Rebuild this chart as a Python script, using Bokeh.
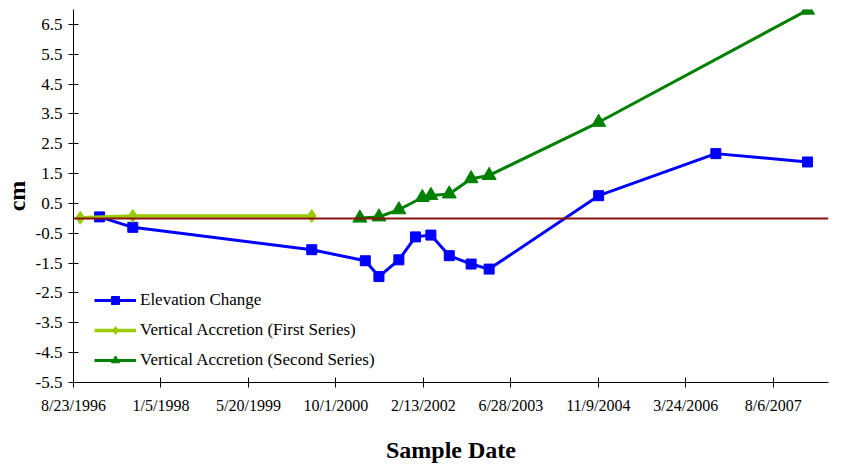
import pandas as pd
from bokeh.plotting import figure
from bokeh.models import FixedTicker, Range1d, Span, Legend, LegendItem
from bokeh.embed import file_html
from bokeh.resources import INLINE

# ---- data ----
elev_dates = ["1997-01-19", "1997-07-28", "2000-05-16", "2001-03-18", "2001-06-04",
              "2001-09-26", "2001-12-30", "2002-03-28", "2002-07-11", "2002-11-13",
              "2003-02-24", "2004-11-11", "2006-09-12", "2008-02-18"]
elev_values = [0.05, -0.30, -1.05, -1.42, -1.95, -1.39, -0.62, -0.56, -1.25, -1.53,
               -1.70, 0.76, 2.17, 1.89]

first_dates = ["1996-10-01", "1997-07-28", "2000-05-16"]
first_values = [0.02, 0.08, 0.08]

second_dates = ["2001-02-15", "2001-06-04", "2001-09-26", "2002-02-07", "2002-03-28",
                "2002-07-11", "2002-11-13", "2003-02-24", "2004-11-11", "2008-02-18"]
second_values = [0.01, 0.05, 0.29, 0.70, 0.77, 0.82, 1.33, 1.44, 3.22, 6.98]

x_tick_dates = ["1996-08-23", "1998-01-05", "1999-05-20", "2000-10-01", "2002-02-13",
                "2003-06-28", "2004-11-09", "2006-03-24", "2007-08-06"]
x_tick_labels = ["8/23/1996", "1/5/1998", "5/20/1999", "10/1/2000", "2/13/2002",
                 "6/28/2003", "11/9/2004", "3/24/2006", "8/6/2007"]
y_ticks = [-5.5, -4.5, -3.5, -2.5, -1.5, -0.5, 0.5, 1.5, 2.5, 3.5, 4.5, 5.5, 6.5]
y_tick_labels = ["-5.5", "-4.5", "-3.5", "-2.5", "-1.5", "-0.5", "0.5", "1.5", "2.5",
                 "3.5", "4.5", "5.5", "6.5"]


def ms(d):
    return pd.Timestamp(d).timestamp() * 1000.0


DAY = 86400000.0
x_start = ms(x_tick_dates[0])
x_end = x_start + 4316 * DAY

p = figure(width=850, height=465, output_backend="svg", toolbar_location=None,
           x_range=Range1d(x_start, x_end), y_range=Range1d(-5.5, 7.0),
           min_border_left=72, min_border_right=22, min_border_top=9,
           min_border_bottom=83)
p.outline_line_color = None
p.xgrid.grid_line_color = None
p.ygrid.grid_line_color = None
p.background_fill_color = "white"
p.border_fill_color = "white"

FONT = "Liberation Serif"

# zero line
p.add_layout(Span(location=0, dimension="width", line_color="#8B1010", line_width=2))

ex = [ms(d) for d in elev_dates]
fx = [ms(d) for d in first_dates]
sx = [ms(d) for d in second_dates]

r_e_l = p.line(ex, elev_values, line_color="#0000FF", line_width=3)
r_e_m = p.scatter(ex, elev_values, marker="square", size=10, fill_color="#0000FF",
                  line_color="#0000FF")
r_f_l = p.line(fx, first_values, line_color="#99CC00", line_width=3.5)
r_f_m = p.scatter(fx, first_values, marker="diamond", size=13, fill_color="#99CC00",
                  line_color="#99CC00")
r_s_l = p.line(sx, second_values, line_color="#008000", line_width=3)
r_s_m = p.scatter(sx, second_values, marker="triangle", size=14, fill_color="#008000",
                  line_color="#008000")

legend = Legend(items=[
    LegendItem(label="Elevation Change", renderers=[r_e_l, r_e_m]),
    LegendItem(label="Vertical Accretion (First Series)", renderers=[r_f_l, r_f_m]),
    LegendItem(label="Vertical Accretion (Second Series)", renderers=[r_s_l, r_s_m]),
], location=(21, 12))
legend.border_line_color = None
legend.background_fill_alpha = 0
legend.padding = 0
legend.margin = 0
legend.spacing = 10
legend.glyph_width = 42
legend.glyph_height = 20
legend.label_height = 20
legend.label_standoff = 4
legend.label_text_font = FONT
legend.label_text_font_size = "17px"
legend.label_text_color = "black"
p.add_layout(legend)

# axes
p.xaxis.ticker = FixedTicker(ticks=[ms(d) for d in x_tick_dates])
p.xaxis.major_label_overrides = {ms(d): lab for d, lab in zip(x_tick_dates, x_tick_labels)}
p.yaxis.ticker = FixedTicker(ticks=y_ticks)
p.yaxis.major_label_overrides = {t: lab for t, lab in zip(y_ticks, y_tick_labels)}

for ax in (p.xaxis, p.yaxis):
    ax.axis_line_color = "black"
    ax.axis_line_width = 1
    ax.major_tick_line_color = "black"
    ax.major_tick_in = 5
    ax.major_tick_out = 5
    ax.minor_tick_line_color = None
    ax.major_label_text_font = FONT
    ax.major_label_text_color = "black"
    ax.axis_label_text_font = FONT
    ax.axis_label_text_font_style = "bold"
    ax.axis_label_text_font_size = "24px"
    ax.axis_label_text_color = "black"

p.xaxis.major_label_text_font_size = "16px"
p.yaxis.major_label_text_font_size = "17px"
p.xaxis.axis_label = "Sample Date"
p.yaxis.axis_label = "cm"
p.xaxis.major_label_standoff = 9
p.xaxis.axis_label_standoff = 20
p.yaxis.major_label_standoff = 6
p.yaxis.axis_label_standoff = 3

open("out.html", "w").write(file_html(p, INLINE))
